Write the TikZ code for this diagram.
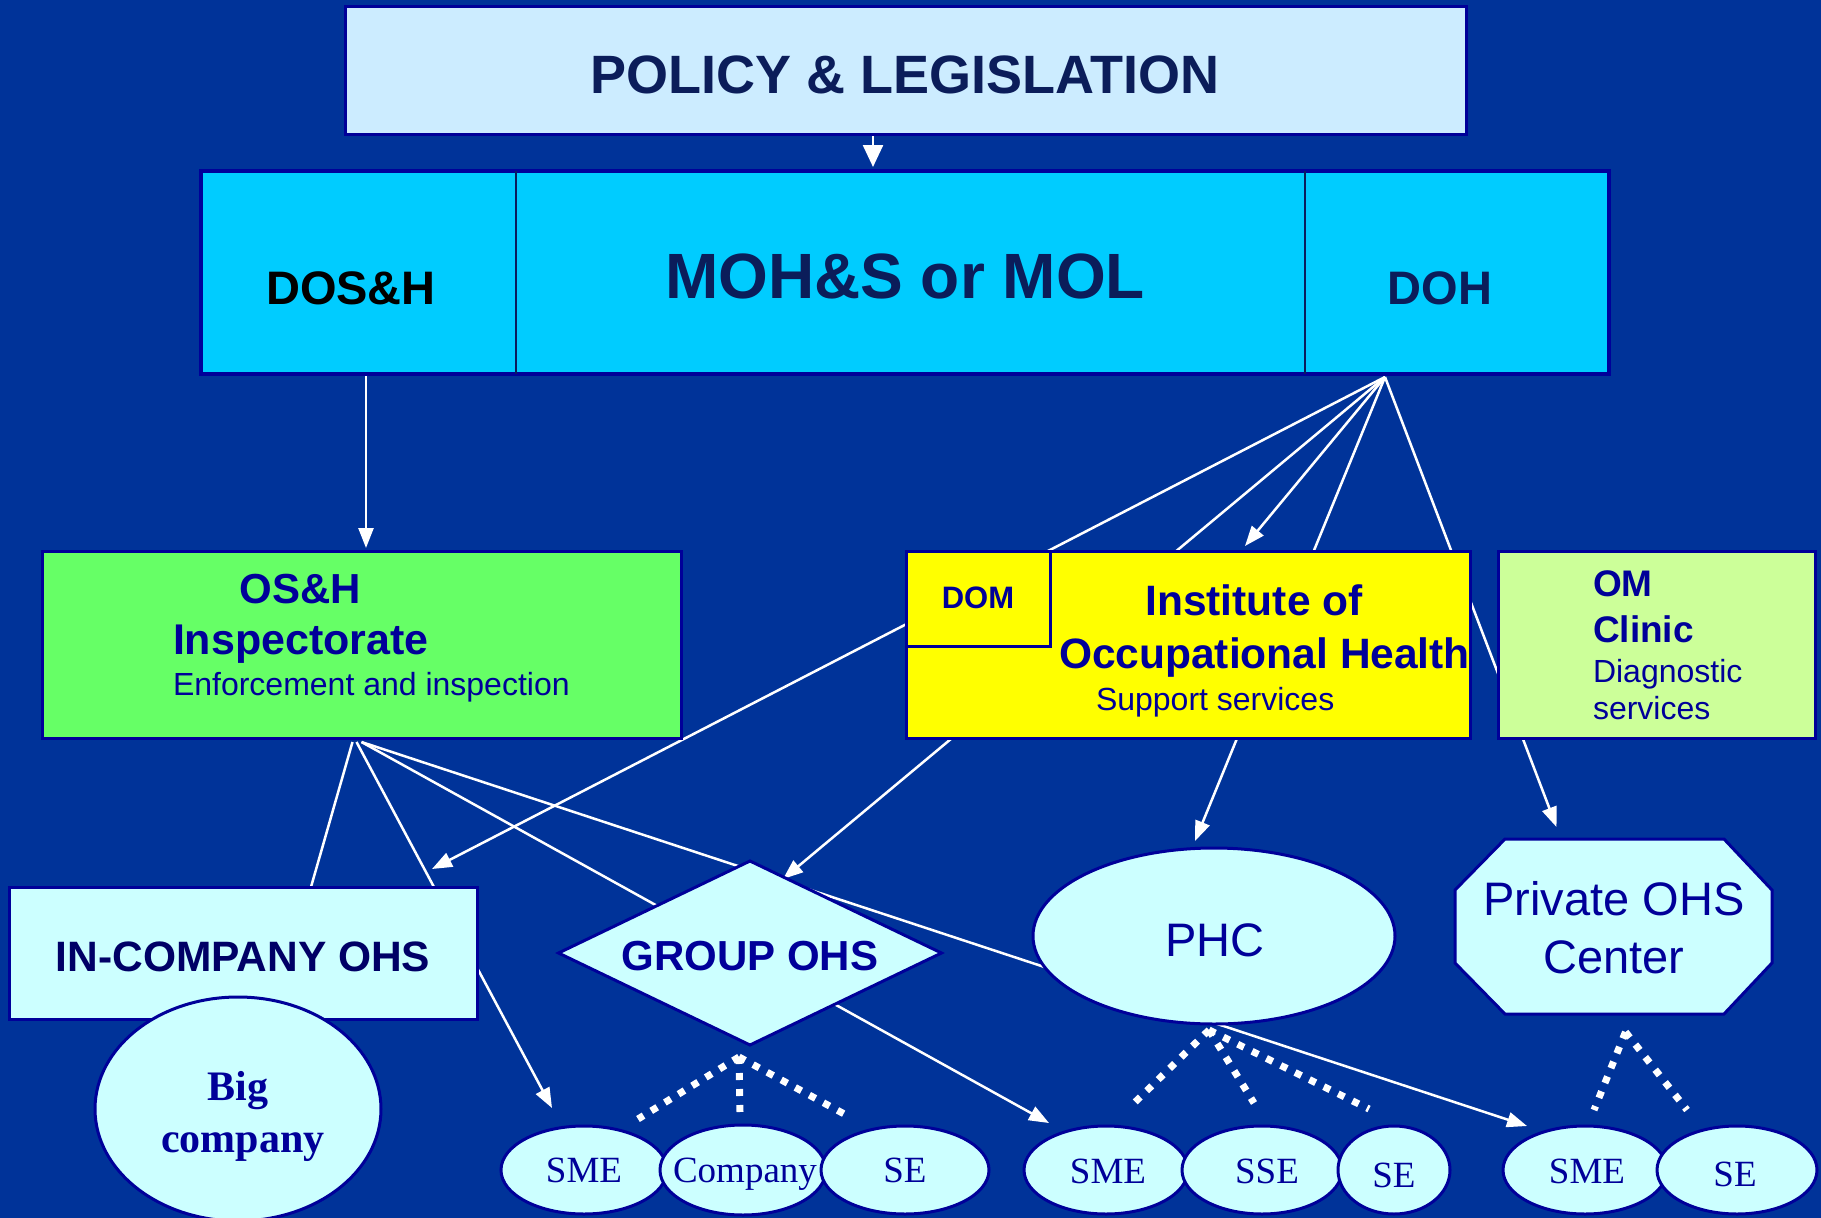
\documentclass[tikz,border=0pt]{standalone}
\usepackage{fontspec}
\setmainfont{Liberation Sans}
\newfontfamily\tms{Liberation Serif}
\usetikzlibrary{shapes.geometric,arrows.meta,calc}
\pgfdeclarelayer{back}
\pgfdeclarelayer{lines}
\pgfsetlayers{back,lines,main}
\definecolor{bgblue}{HTML}{003399}
\definecolor{navy}{HTML}{000099}
\definecolor{dnavy}{HTML}{0B1D5A}
\definecolor{inknavy}{HTML}{000066}
\definecolor{pale}{HTML}{CCECFF}
\definecolor{sky}{HTML}{00CCFF}
\definecolor{lgreen}{HTML}{66FF66}
\definecolor{lyellow}{HTML}{FFFF00}
\definecolor{lime}{HTML}{CCFF99}
\definecolor{lcyan}{HTML}{CCFFFF}
\newcommand{\fsz}[1]{\fontsize{#1}{#1}\selectfont}
\begin{document}
\begin{tikzpicture}[x=1pt,y=-1pt,
  box/.style={draw=navy,line width=3pt,inner sep=0pt,outer sep=0pt,rectangle},
  shp/.style={draw=navy,line width=3pt,fill=lcyan,inner sep=0pt,outer sep=0pt},
  txt/.style={inner sep=0pt,outer sep=0pt,text=navy,anchor=base},
  ltxt/.style={txt,anchor=base west},
  conn/.style={white,line width=2.5pt},
  arr/.style={conn,-{Triangle[length=20pt,width=15pt]}},
  dots/.style={white,line width=7pt,dash pattern=on 7pt off 9pt}
]
\useasboundingbox (0,0) rectangle (1821,1218);
\begin{pgfonlayer}{back}
\fill[bgblue] (0,0) rectangle (1821,1218);
\end{pgfonlayer}

% top
\node[box,fill=pale,minimum width=1121pt,minimum height=128pt] (policy) at (905.5,70) {};
\node[txt,text=dnavy,font=\bfseries\fsz{54}] (polT) at (905,93) {POLICY \& LEGISLATION};

% ministry
\node[rectangle,fill=sky,inner sep=0pt,outer sep=0pt,minimum width=315pt,minimum height=203pt] (dosh) at (358.5,272.5) {};
\node[rectangle,fill=sky,inner sep=0pt,outer sep=0pt,minimum width=789pt,minimum height=203pt] (moh) at (910.5,272.5) {};
\node[rectangle,fill=sky,inner sep=0pt,outer sep=0pt,minimum width=304pt,minimum height=203pt] (doh) at (1457,272.5) {};
\draw[navy,line width=4pt] (dosh.north west) rectangle (doh.south east);
\draw[dnavy,line width=1.8pt] (dosh.north east) -- (dosh.south east);
\draw[dnavy,line width=1.8pt] (moh.north east) -- (moh.south east);
\node[txt,text=black,font=\bfseries\fsz{47}] (doshT) at (351,304) {DOS\&H};
\node[txt,text=dnavy,font=\bfseries\fsz{64}] (mohT) at (905,298) {MOH\&S or MOL};
\node[txt,text=dnavy,font=\bfseries\fsz{47}] (dohT) at (1440,304) {DOH};

% middle row
\node[box,fill=lgreen,minimum width=639pt,minimum height=187pt] (osh) at (361.5,644.5) {};
\node[txt,font=\bfseries\fsz{42}] (oshA) at (300,603) {OS\&H};
\node[ltxt,font=\bfseries\fsz{43}] (oshB) at (173,654) {Inspectorate};
\node[ltxt,font=\fsz{32}] (oshC) at (173,695) {Enforcement and inspection};

\node[box,fill=lyellow,minimum width=564pt,minimum height=187pt] (inst) at (1188,644.5) {};
\node[box,fill=lyellow,minimum width=144pt,minimum height=95pt] (dom) at (978,598.5) {};
\node[txt,font=\bfseries\fsz{31}] (domT) at (978,608) {DOM};
\node[txt,font=\bfseries\fsz{42.5}] (instA) at (1254,615) {Institute of};
\node[ltxt,font=\bfseries\fsz{42.5}] (instB) at (1059,668) {Occupational Health};
\node[ltxt,font=\fsz{32}] (instC) at (1096,710) {Support services};

\node[box,fill=lime,minimum width=317pt,minimum height=187pt] (omc) at (1656.5,644.5) {};
\node[ltxt,font=\bfseries\fsz{37}] (omA) at (1593,596) {OM};
\node[ltxt,font=\bfseries\fsz{37}] (omB) at (1593,642) {Clinic};
\node[ltxt,font=\fsz{32}] (omC) at (1593,682) {Diagnostic};
\node[ltxt,font=\fsz{32}] (omD) at (1593,719) {services};

% lower row
\node[shp,rectangle,minimum width=468pt,minimum height=132pt] (incomp) at (243,953) {};
\node[txt,text=inknavy,font=\bfseries\fsz{42.5}] (incT) at (243,971) {IN-COMPANY OHS};
\node[shp,ellipse,minimum width=286pt,minimum height=224pt] (big) at (238,1109) {};
\node[txt,font=\tms\bfseries\fsz{42}] (bigA) at (238,1100) {Big};
\node[txt,font=\tms\bfseries\fsz{42}] (bigB) at (243,1152) {company};

\node[shp,diamond,minimum width=383pt,minimum height=184pt] (group) at (750,953) {};
\node[txt,font=\bfseries\fsz{42}] (grpT) at (750,970) {GROUP OHS};

\node[shp,ellipse,minimum width=362pt,minimum height=176pt] (phc) at (1214,936) {};
\node[txt,font=\fsz{47}] (phcT) at (1215,956) {PHC};

\node[rectangle,inner sep=0pt,outer sep=0pt,minimum width=317pt,minimum height=175pt] (priv) at (1613.5,926.5) {};
\draw[navy,line width=3pt,fill=lcyan] ([xshift=50]priv.north west) -- ([xshift=-48]priv.north east)
  -- ([yshift=-51]priv.north east) -- ([yshift=51]priv.south east) -- ([xshift=-48]priv.south east)
  -- ([xshift=50]priv.south west) -- ([yshift=51]priv.south west) -- ([yshift=-51]priv.north west) -- cycle;
\node[txt,font=\fsz{47}] (privA) at (1614,915) {Private OHS};
\node[txt,font=\fsz{47}] (privB) at (1614,973) {Center};

% bottom small ellipses
\node[shp,ellipse,minimum width=166pt,minimum height=88pt] (sme1) at (584,1170) {};
\node[txt,font=\tms\fsz{37}] (sme1T) at (584,1182) {SME};
\node[shp,ellipse,minimum width=166pt,minimum height=90pt] (company) at (743,1170) {};
\node[txt,font=\tms\fsz{37}] (companyT) at (745,1182) {Company};
\node[shp,ellipse,minimum width=168pt,minimum height=88pt] (se1) at (905,1170) {};
\node[txt,font=\tms\fsz{37}] (se1T) at (905,1182) {SE};
\node[shp,ellipse,minimum width=164pt,minimum height=88pt] (sme2) at (1106,1170) {};
\node[txt,font=\tms\fsz{37}] (sme2T) at (1108,1183) {SME};
\node[shp,ellipse,minimum width=160pt,minimum height=88pt] (sse) at (1262,1170) {};
\node[txt,font=\tms\fsz{37}] (sseT) at (1267,1183) {SSE};
\node[shp,ellipse,minimum width=112pt,minimum height=88pt] (se2) at (1394,1170) {};
\node[txt,font=\tms\fsz{37}] (se2T) at (1394,1187) {SE};
\node[shp,ellipse,minimum width=164pt,minimum height=88pt] (sme3) at (1585,1170) {};
\node[txt,font=\tms\fsz{37}] (sme3T) at (1587,1183) {SME};
\node[shp,ellipse,minimum width=160pt,minimum height=88pt] (se3) at (1737,1170) {};
\node[txt,font=\tms\fsz{37}] (se3T) at (1735,1186) {SE};

\begin{pgfonlayer}{lines}
% top arrows
\draw[conn,-{Triangle[length=22pt,width=20pt]}] ([xshift=-32.5]policy.south) -- ([xshift=-37.5,yshift=4]moh.north);
\draw[arr] ([xshift=7.5]dosh.south) -- ([xshift=4.5,yshift=3]osh.north);
% fan from DOH
\coordinate (fan) at ([xshift=-72,yshift=-3]doh.south);
\draw[arr] (fan) -- ([xshift=-45,yshift=18]incomp.north east);
\draw[arr] (fan) -- ([xshift=33,yshift=-18]group.north);
\draw[arr] (fan) -- ([xshift=57,yshift=5]inst.north);
\draw[arr] (fan) -- ([xshift=-19,yshift=7]phc.north);
\draw[arr] (fan) -- ([xshift=-57,yshift=12]priv.north);
% from OS&H
\draw[conn] ([xshift=-9,yshift=-4]osh.south) -- ([xshift=68]incomp.north);
\draw[arr] ([xshift=-5,yshift=-4]osh.south) -- ([xshift=-32,yshift=18]sme1.north);
\draw[arr] ([xshift=0,yshift=-4]osh.south) -- ([xshift=-57,yshift=3]sme2.north);
\draw[arr] ([xshift=0,yshift=-4]osh.south) -- ([xshift=-58]sme3.north);
% dotted
\coordinate (apexG) at ([xshift=-11,yshift=-12]group.south);
\draw[dots] (apexG) -- ([xshift=54,yshift=7]sme1.north);
\draw[dots] (apexG) -- ([xshift=-3,yshift=13]company.north);
\draw[dots] (apexG) -- ([xshift=-57,yshift=10]se1.north);
\coordinate (apexP) at ([xshift=-5,yshift=-6]phc.south);
\draw[dots] (apexP) -- ([xshift=23,yshift=18]sme2.north);
\draw[dots] (apexP) -- ([xshift=-8,yshift=23]sse.north);
\draw[dots] (apexP) -- ([xshift=-25,yshift=17]se2.north);
\coordinate (apexV) at ([xshift=12,yshift=-18]priv.south);
\draw[dots] (apexV) -- ([xshift=9,yshift=16]sme3.north);
\draw[dots] (apexV) -- ([xshift=-50,yshift=16]se3.north);
\end{pgfonlayer}
\end{tikzpicture}
\end{document}
